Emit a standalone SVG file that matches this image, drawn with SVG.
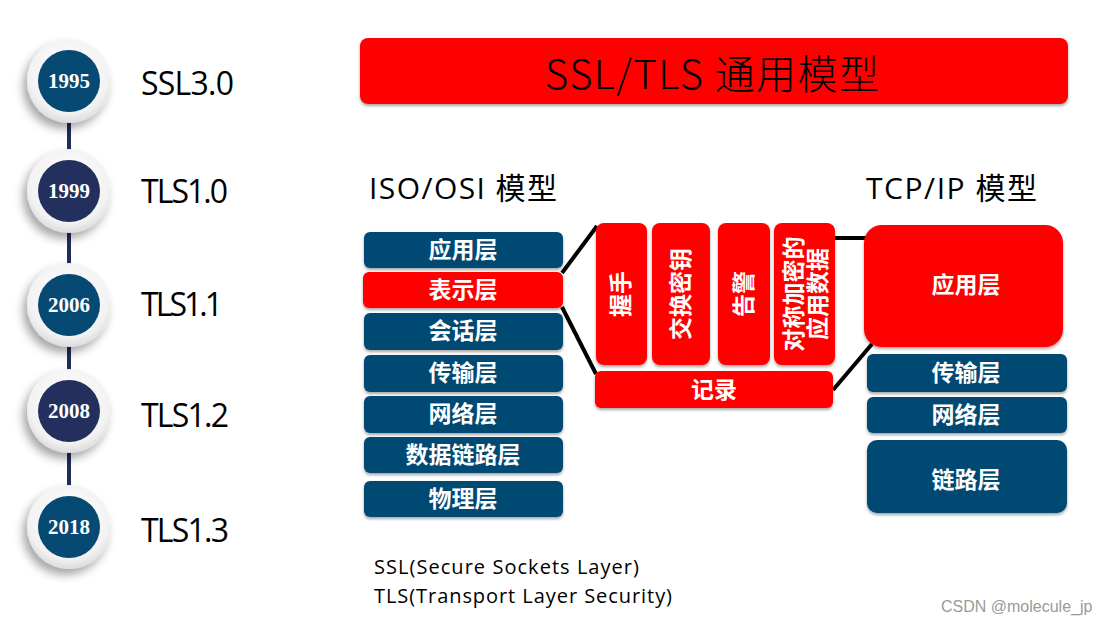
<svg xmlns="http://www.w3.org/2000/svg" width="1107" height="626" viewBox="0 0 1107 626">
<defs>
<style>
.lbl{font-family:"Open Sans","Noto Sans","Noto Sans CJK SC",sans-serif;fill:#000}
.ttl{font-family:"Noto Sans CJK SC","Noto Sans",sans-serif;fill:#000;font-weight:300}
.yr{font-family:"Liberation Serif","DejaVu Serif",serif;font-weight:bold;font-size:21px;fill:#fff;text-anchor:middle}
.bx{font-family:"Noto Sans CJK SC","Noto Sans",sans-serif;font-weight:bold;font-size:23px;fill:#fff;text-anchor:middle}
.blue{fill:#064a73}
.red{fill:#ff0000}
.con line{stroke:#000;stroke-width:4}
</style>
<filter id="sh" x="-10%" y="-10%" width="120%" height="130%">
<feDropShadow dx="0" dy="2" stdDeviation="1.5" flood-color="#000" flood-opacity="0.35"/>
</filter>
<filter id="csh" x="-40%" y="-40%" width="180%" height="180%">
<feDropShadow dx="-4" dy="6" stdDeviation="5" flood-color="#000" flood-opacity="0.35"/>
</filter>
<radialGradient id="ring" cx="50%" cy="40%" r="60%">
<stop offset="0" stop-color="#ffffff"/>
<stop offset="0.8" stop-color="#f2f2f2"/>
<stop offset="1" stop-color="#dcdcdc"/>
</radialGradient>
</defs>
<rect width="1107" height="626" fill="#fff"/>

<g id="timeline-line">
<line x1="69" y1="82" x2="69" y2="527" stroke="#1f2d5c" stroke-width="4"/>
</g>
<g id="t1995"><circle cx="69" cy="81" r="42" fill="url(#ring)" filter="url(#csh)"/><circle cx="69" cy="81" r="31" fill="#064a73"/><text class="yr" x="69" y="88">1995</text><text class="lbl" x="141" y="95" font-size="32" textLength="93">SSL3.0</text></g>
<g id="t1999"><circle cx="69" cy="191" r="42" fill="url(#ring)" filter="url(#csh)"/><circle cx="69" cy="191" r="31" fill="#23305e"/><text class="yr" x="69" y="198">1999</text><text class="lbl" x="141" y="203" font-size="32" textLength="87">TLS1.0</text></g>
<g id="t2006"><circle cx="69" cy="305" r="42" fill="url(#ring)" filter="url(#csh)"/><circle cx="69" cy="305" r="31" fill="#064a73"/><text class="yr" x="69" y="312">2006</text><text class="lbl" x="141" y="316" font-size="32" textLength="82">TLS1.1</text></g>
<g id="t2008"><circle cx="69" cy="411" r="42" fill="url(#ring)" filter="url(#csh)"/><circle cx="69" cy="411" r="31" fill="#23305e"/><text class="yr" x="69" y="418">2008</text><text class="lbl" x="141" y="427" font-size="32" textLength="88">TLS1.2</text></g>
<g id="t2018"><circle cx="69" cy="527" r="42" fill="url(#ring)" filter="url(#csh)"/><circle cx="69" cy="527" r="31" fill="#064a73"/><text class="yr" x="69" y="534">2018</text><text class="lbl" x="141" y="542" font-size="32" textLength="88">TLS1.3</text></g>

<g id="title"><rect x="360" y="38" width="708" height="66" rx="8" class="red" filter="url(#sh)"/><text class="ttl" x="712" y="89" font-size="40" text-anchor="middle" textLength="334">SSL/TLS 通用模型</text></g>

<g id="iso-title"><text class="lbl" x="369" y="199" font-size="30" textLength="188">ISO/OSI 模型</text></g>
<g id="tcp-title"><text class="lbl" x="866" y="199" font-size="30" textLength="171">TCP/IP 模型</text></g>

<g class="con" id="connectors">
<line x1="562" y1="273" x2="597" y2="226"/>
<line x1="562" y1="307" x2="596" y2="374"/>
<line x1="833" y1="390" x2="872" y2="344"/>
<line x1="834" y1="238" x2="866" y2="238"/>
</g>

<g id="osi-app"><rect x="364" y="232" width="199" height="36" rx="6" class="blue" filter="url(#sh)"/><text class="bx" x="463" y="258">应用层</text></g>
<g id="osi-pres"><rect x="363" y="272" width="200" height="36" rx="6" class="red" filter="url(#sh)"/><text class="bx" x="463" y="298">表示层</text></g>
<g id="osi-sess"><rect x="364" y="313" width="199" height="37" rx="6" class="blue" filter="url(#sh)"/><text class="bx" x="463" y="339">会话层</text></g>
<g id="osi-trans"><rect x="364" y="355" width="199" height="37" rx="6" class="blue" filter="url(#sh)"/><text class="bx" x="463" y="381">传输层</text></g>
<g id="osi-net"><rect x="364" y="396" width="199" height="37" rx="6" class="blue" filter="url(#sh)"/><text class="bx" x="463" y="422">网络层</text></g>
<g id="osi-link"><rect x="364" y="437" width="199" height="36" rx="6" class="blue" filter="url(#sh)"/><text class="bx" x="463" y="463">数据链路层</text></g>
<g id="osi-phy"><rect x="364" y="481" width="199" height="36" rx="6" class="blue" filter="url(#sh)"/><text class="bx" x="463" y="507">物理层</text></g>

<g id="handshake"><rect x="596" y="223" width="51" height="142" rx="8" class="red" filter="url(#sh)"/><text class="bx" transform="translate(629,294) rotate(-90)">握手</text></g>
<g id="keyex"><rect x="652" y="223" width="58" height="142" rx="8" class="red" filter="url(#sh)"/><text class="bx" transform="translate(689,294) rotate(-90)">交换密钥</text></g>
<g id="alert"><rect x="718" y="223" width="52" height="142" rx="8" class="red" filter="url(#sh)"/><text class="bx" transform="translate(752,294) rotate(-90)">告警</text></g>
<g id="appdata"><rect x="774" y="223" width="61" height="142" rx="8" class="red" filter="url(#sh)"/><text class="bx" font-size="20" transform="translate(802,294) rotate(-90)">对称加密的</text><text class="bx" font-size="20" transform="translate(826,294) rotate(-90)">应用数据</text></g>
<g id="record"><rect x="595" y="371" width="238" height="37" rx="6" class="red" filter="url(#sh)"/><text class="bx" x="714" y="398">记录</text></g>

<g id="tcp-app"><rect x="864" y="225" width="199" height="122" rx="18" class="red" filter="url(#sh)"/><text class="bx" x="966" y="293">应用层</text></g>
<g id="tcp-trans"><rect x="867" y="354" width="200" height="38" rx="6" class="blue" filter="url(#sh)"/><text class="bx" x="966" y="381">传输层</text></g>
<g id="tcp-net"><rect x="867" y="397" width="200" height="36" rx="6" class="blue" filter="url(#sh)"/><text class="bx" x="966" y="423">网络层</text></g>
<g id="tcp-link"><rect x="867" y="440" width="200" height="73" rx="10" class="blue" filter="url(#sh)"/><text class="bx" x="966" y="488">链路层</text></g>

<g id="notes">
<text class="lbl" x="374" y="574" font-size="20" textLength="265">SSL(Secure Sockets Layer)</text>
<text class="lbl" x="374" y="603" font-size="20" textLength="298">TLS(Transport Layer Security)</text>
</g>
<text x="941" y="612" font-family="Liberation Sans,Arial,sans-serif" font-size="16" fill="#9a9a9a">CSDN @molecule_jp</text>
</svg>
